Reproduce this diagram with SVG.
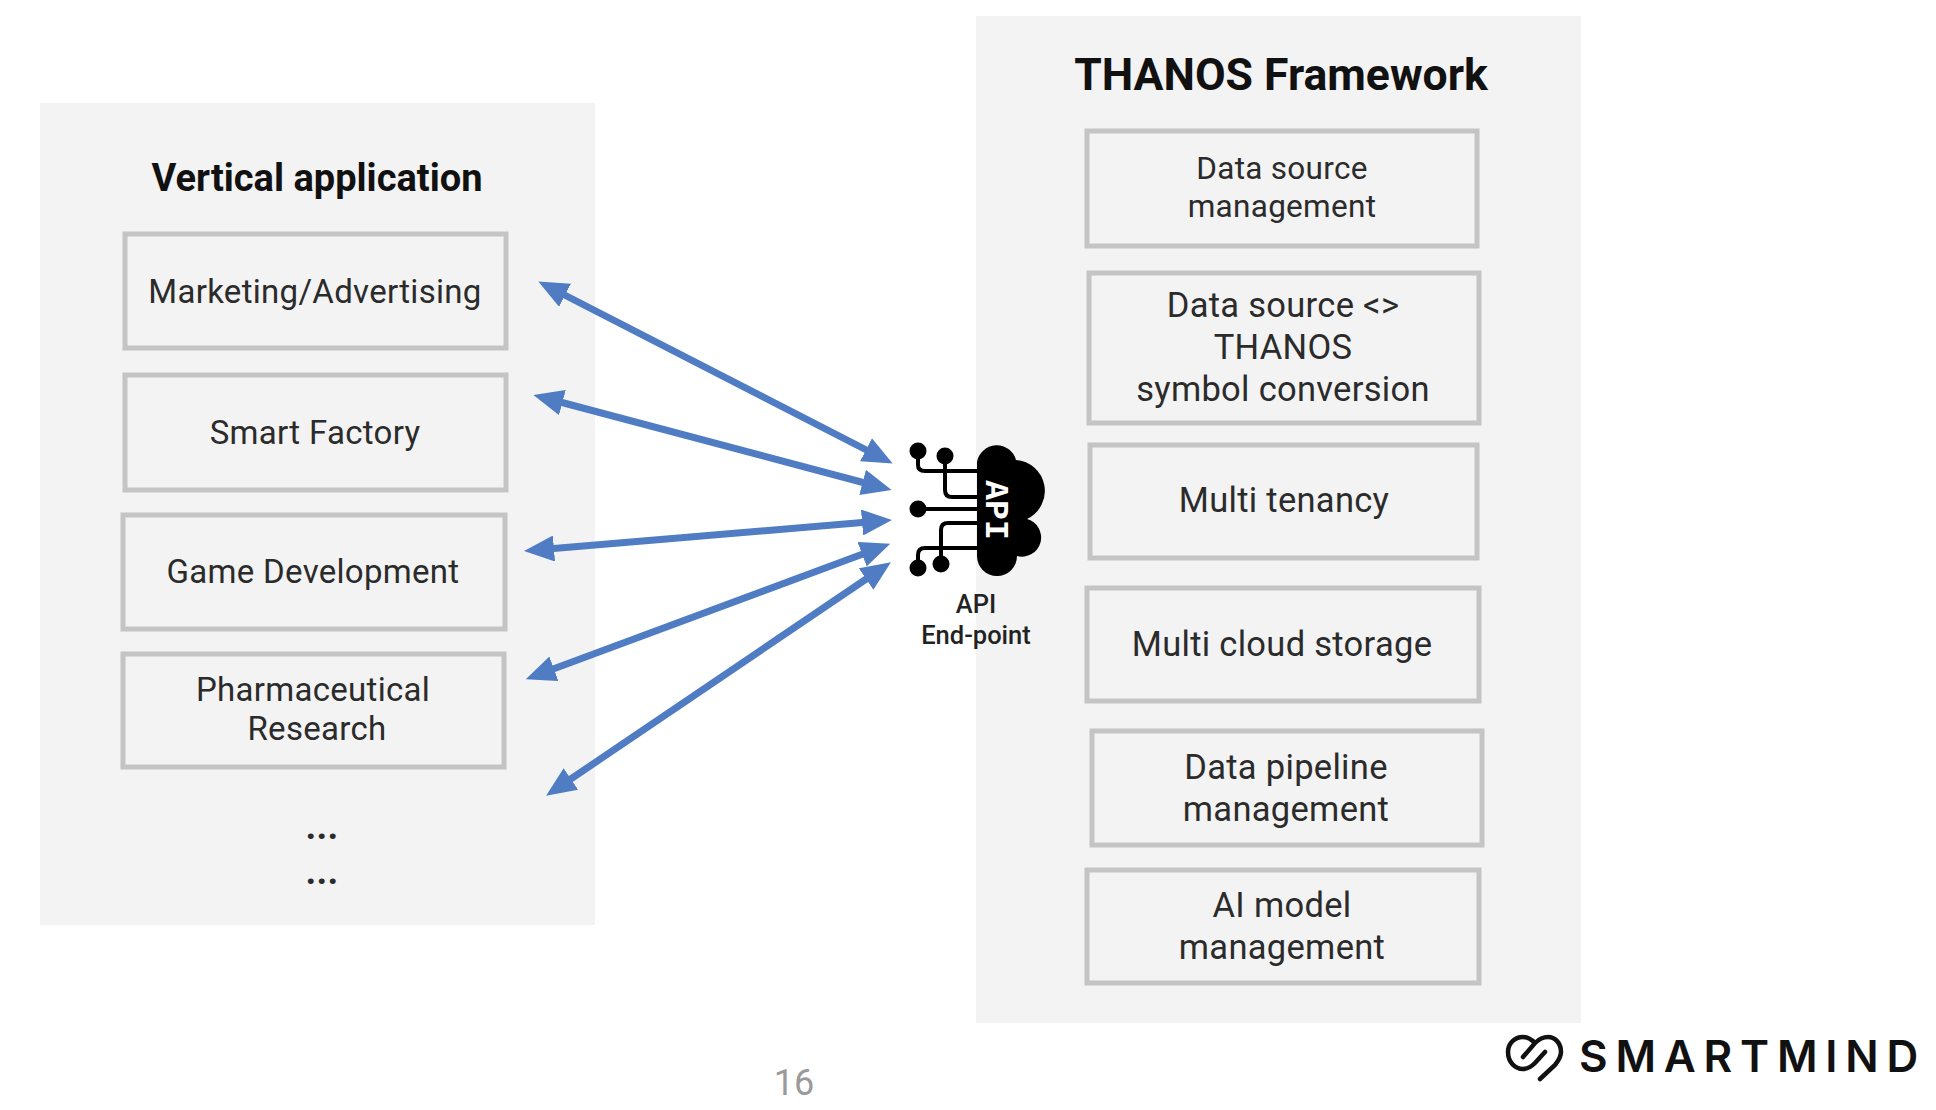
<svg xmlns="http://www.w3.org/2000/svg" width="1936" height="1110" viewBox="0 0 1936 1110">
<style>
.panel{fill:#f3f3f3}
.box{fill:#f3f3f3;stroke:#c4c4c4;stroke-width:5}
.t{font-family:Roboto,"Liberation Sans",sans-serif;font-size:33px;fill:#2b2b2b;text-anchor:middle;letter-spacing:.3px}
.m{font-size:34.500px}
.s{font-size:31.500px}
.h{font-family:Roboto,"Liberation Sans",sans-serif;font-weight:700;fill:#111;text-anchor:middle}
.a{stroke:#4f7cc2;stroke-width:7;fill:none;marker-start:url(#ah);marker-end:url(#ah)}
.w{stroke:#000;stroke-width:4;fill:none}
.l{font-family:Roboto,"Liberation Sans",sans-serif;font-weight:500;font-size:25.500px;fill:#222;text-anchor:middle}
</style>
<defs>
<marker id="ah" viewBox="0 0 30 26" refX="18" refY="13" markerWidth="30" markerHeight="26" markerUnits="userSpaceOnUse" orient="auto-start-reverse">
<path d="M0 0L30 13L0 26Z" fill="#4f7cc2"/>
</marker>
</defs>
<rect width="1936" height="1110" fill="#fff"/>
<g id="vertical-panel">
<rect class="panel" x="40" y="103" width="555" height="822"/>
<text class="h" x="317" y="191" font-size="38">Vertical application</text>
<text class="t" x="322" y="839" style="font-weight:700;font-size:37px">...</text>
<text class="t" x="322" y="884" style="font-weight:700;font-size:37px">...</text>
</g>
<g id="framework-panel">
<rect class="panel" x="976" y="16" width="605" height="1007"/>
<text class="h" x="1281" y="90" font-size="44.500">THANOS Framework</text>
</g>
<g id="n-marketing"><rect class="box" x="125" y="234" width="381" height="114"/><text class="t" x="315" y="303">Marketing/Advertising</text></g>
<g id="n-factory"><rect class="box" x="125" y="375" width="381" height="115"/><text class="t" x="315" y="444">Smart Factory</text></g>
<g id="n-game"><rect class="box" x="123" y="515" width="382" height="114"/><text class="t" x="313" y="583">Game Development</text></g>
<g id="n-pharma"><rect class="box" x="123" y="654" width="381" height="113"/><text class="t" x="313" y="701">Pharmaceutical</text><text class="t" x="317" y="740">Research</text></g>
<g id="n-ds"><rect class="box" x="1087" y="131" width="390" height="115"/><text class="t s" x="1282" y="179">Data source</text><text class="t s" x="1282" y="217">management</text></g>
<g id="n-conv"><rect class="box" x="1089" y="273" width="390" height="150"/><text class="t m" x="1283" y="317">Data source &lt;&gt;</text><text class="t m" x="1283" y="359">THANOS</text><text class="t m" x="1283" y="401">symbol conversion</text></g>
<g id="n-tenancy"><rect class="box" x="1090" y="445" width="387" height="113"/><text class="t m" x="1284" y="512">Multi tenancy</text></g>
<g id="n-storage"><rect class="box" x="1087" y="588" width="392" height="113"/><text class="t m" x="1282" y="656">Multi cloud storage</text></g>
<g id="n-pipeline"><rect class="box" x="1092" y="731" width="390" height="114"/><text class="t m" x="1286" y="779">Data pipeline</text><text class="t m" x="1286" y="821">management</text></g>
<g id="n-ai"><rect class="box" x="1087" y="870" width="392" height="113"/><text class="t m" x="1282" y="917">AI model</text><text class="t m" x="1282" y="959">management</text></g>
<g id="connectors">
<line class="a" x1="549" y1="287" x2="882" y2="458"/>
<line class="a" x1="545" y1="398" x2="880" y2="487"/>
<line class="a" x1="536" y1="550" x2="880" y2="521"/>
<line class="a" x1="537" y1="675" x2="879" y2="548"/>
<line class="a" x1="556" y1="789" x2="881" y2="569"/>
</g>
<g id="api-endpoint">
<circle cx="918" cy="451" r="8.5"/><circle cx="945" cy="456" r="8.5"/><circle cx="918" cy="509" r="8.5"/><circle cx="941" cy="564" r="8.5"/><circle cx="918" cy="568" r="8.5"/>
<path class="w" d="M918 451V465Q918 471 925 471H980M945 456V490Q945 497 952 497H980M918 509H980M941 564V530Q941 523 948 523H980M918 568V555Q918 548 925 548H980"/>
<path fill="#000" d="M977 556V462A20 20 0 0 1 1016 460A31 31 0 0 1 1027 519A16.500 16.500 0 0 1 1017 556A20 20 0 0 1 977 556Z"/>
<text transform="translate(986 510) rotate(90)" x="0" y="0" font-family="Liberation Mono,monospace" font-weight="700" font-size="33" fill="#fff" text-anchor="middle">API</text>
<text class="l" x="976" y="613">API</text>
<text class="l" x="976" y="644">End-point</text>
</g>
<text id="page" x="794" y="1095" font-family="Roboto,sans-serif" font-size="36" fill="#9a9a9a" text-anchor="middle">16</text>
<g id="logo">
<path fill="none" stroke="#111" stroke-width="4.500" stroke-linecap="round" d="M1540 1079L1555 1065C1559 1060 1561 1057 1561 1052C1561 1043 1555 1037 1548 1037C1543 1037 1538 1040 1535 1043L1523 1057M1535 1043C1530 1038 1527 1037 1523 1037C1514 1037 1508 1044 1508 1052C1508 1062 1515 1069 1523 1069C1528 1069 1532 1066 1535 1063L1545 1052"/>
<text x="1579" y="1072" font-family="Inter,sans-serif" font-weight="600" font-size="44" letter-spacing="7.800" fill="#111">SMARTMIND</text>
</g>
</svg>
